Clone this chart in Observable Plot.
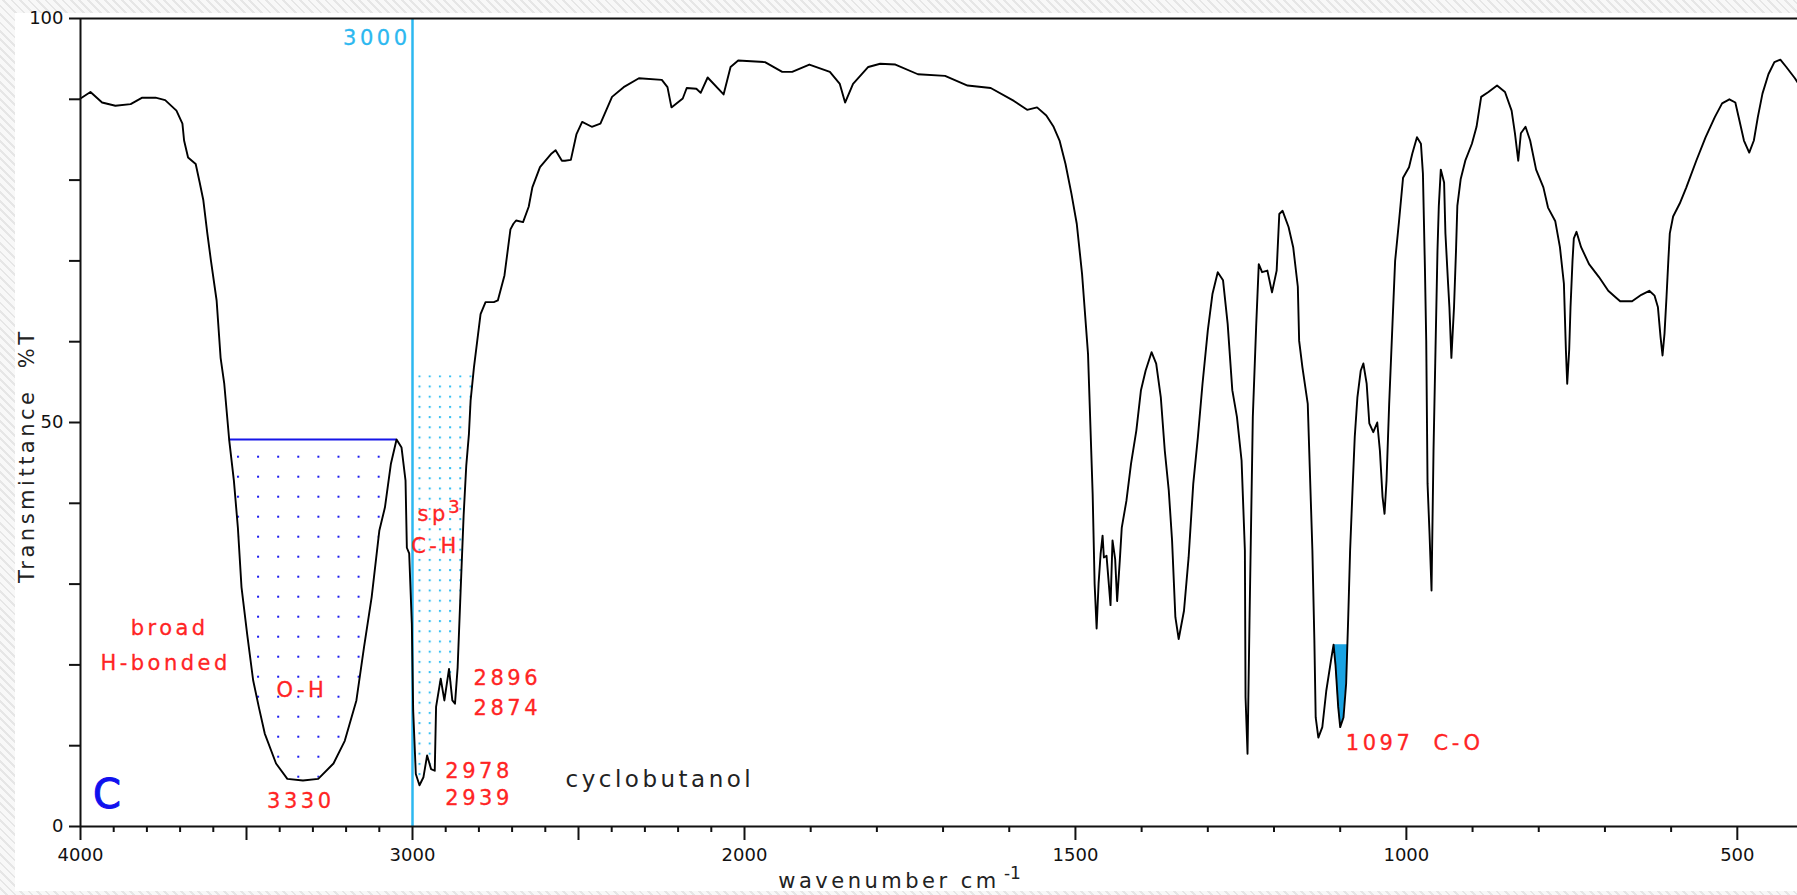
<!DOCTYPE html>
<html>
<head>
<meta charset="utf-8">
<script src="https://cdn.jsdelivr.net/npm/d3@7"></script>
<script src="https://cdn.jsdelivr.net/npm/@observablehq/plot@0.6"></script>
<style>
html, body { margin: 0; padding: 0; width: 1797px; height: 895px; overflow: hidden; }
body {
  position: relative;
  background: repeating-linear-gradient(45deg, #f8f8f8 0px, #f8f8f8 4px, #e6e6e6 4px, #e6e6e6 6px);
  font-family: "DejaVu Sans", sans-serif;
}
#panel { position: absolute; left: 15px; top: 13px; width: 1782px; height: 878px; background: #fff; }
#chart { position: absolute; left: 0; top: 0; }
#chart svg text { white-space: pre; }
</style>
</head>
<body>
<div id="panel"></div>
<div id="chart"></div>
<script>
// ---------- data ----------
const wavenumber = [
  4000, 3970, 3935, 3895, 3849, 3814, 3774, 3745, 3711, 3693,
  3688, 3676, 3653, 3641, 3630, 3618, 3607, 3590, 3578, 3567,
  3552, 3538, 3526, 3515, 3498, 3480, 3463, 3445, 3411, 3377,
  3330, 3284, 3238, 3204, 3169, 3146, 3123, 3100, 3083, 3065,
  3048, 3033, 3021, 3017, 3010, 3002, 2998, 2990, 2979, 2967,
  2956, 2944, 2933, 2929, 2915, 2904, 2890, 2880, 2872, 2864,
  2855, 2846, 2838, 2830, 2825, 2815, 2805, 2795, 2780, 2755,
  2743, 2723, 2705, 2696, 2688, 2667, 2650, 2639, 2616, 2581,
  2569, 2550, 2541, 2523, 2506, 2489, 2460, 2434, 2399, 2364,
  2318, 2249, 2232, 2220, 2186, 2174, 2145, 2132, 2111, 2063,
  2042, 2019, 1969, 1943, 1928, 1902, 1871, 1856, 1848, 1836,
  1813, 1795, 1772, 1738, 1697, 1663, 1628, 1593, 1573, 1558,
  1544, 1533, 1524, 1515, 1506, 1498, 1490, 1487, 1481, 1478,
  1474, 1471, 1468, 1465, 1462, 1459, 1457, 1453, 1447, 1444,
  1440, 1437, 1433, 1430, 1423, 1416, 1408, 1401, 1394, 1385,
  1378, 1371, 1365, 1359, 1354, 1349, 1344, 1336, 1329, 1322,
  1315, 1308, 1300, 1293, 1285, 1277, 1270, 1263, 1256, 1249,
  1244, 1243, 1240, 1237, 1232, 1227, 1223, 1218, 1210, 1203,
  1196, 1192, 1187, 1178, 1171, 1164, 1162, 1157, 1149, 1146,
  1142, 1139, 1137, 1133, 1127, 1121, 1114, 1110, 1107, 1103,
  1100, 1095, 1091, 1088, 1085, 1081, 1078, 1074, 1069, 1065,
  1060, 1056, 1050, 1044, 1040, 1036, 1033, 1030, 1026, 1021,
  1017, 1011, 1005, 996, 991, 984, 978, 975, 972, 970,
  968, 965, 962, 959, 956, 953, 951, 948, 943, 941,
  937, 935, 932, 928, 925, 923, 918, 911, 901, 894,
  887, 876, 863, 851, 841, 836, 831, 827, 820, 813,
  804, 793, 786, 775, 768, 762, 759, 757, 754, 752,
  749, 747, 743, 736, 724, 709, 695, 684, 677, 659,
  645, 633, 625, 620, 616, 613, 610, 607, 604, 602,
  597, 587, 577, 562, 548, 534, 523, 512, 503, 498,
  490, 482, 475, 469, 462, 453, 444, 435, 426, 413,
  400
];
const transmittance = [
  90.1, 90.9, 89.6, 89.2, 89.4, 90.2, 90.2, 89.9, 88.6, 87.0,
  84.9, 82.8, 82.0, 79.7, 77.5, 73.4, 70.0, 65.1, 58.0, 54.8,
  47.8, 42.8, 37.0, 29.6, 23.8, 18.1, 14.8, 11.5, 7.8, 5.9,
  5.7, 5.9, 7.8, 10.6, 15.6, 22.2, 28.4, 36.6, 39.5, 44.9,
  47.9, 46.9, 42.8, 34.5, 33.8, 25.1, 14.4, 6.5, 5.1, 6.1,
  8.8, 7.1, 6.9, 14.8, 18.3, 15.6, 19.5, 15.6, 15.2, 19.7,
  29.2, 38.5, 44.7, 48.6, 52.7, 56.8, 60.1, 63.4, 64.9, 64.9,
  65.1, 68.2, 73.9, 74.6, 75.0, 74.8, 76.7, 79.1, 81.6, 83.3,
  83.7, 82.4, 82.4, 82.5, 85.7, 87.2, 86.6, 87.0, 90.3, 91.5,
  92.6, 92.4, 91.5, 89.0, 90.1, 91.4, 91.3, 90.8, 92.7, 90.6,
  94.0, 94.8, 94.6, 93.4, 93.4, 94.3, 93.4, 91.9, 89.6, 91.9,
  94.0, 94.4, 94.3, 93.1, 92.9, 91.7, 91.4, 89.8, 88.7, 89.0,
  88.0, 86.6, 84.9, 82.0, 78.3, 74.6, 68.4, 65.1, 58.5, 51.1,
  41.2, 30.0, 24.5, 30.1, 33.7, 36.0, 33.3, 33.5, 27.4, 35.4,
  33.1, 27.9, 32.9, 37.0, 40.3, 44.9, 49.0, 54.0, 56.4, 58.7,
  57.3, 53.1, 46.5, 41.6, 35.4, 25.9, 23.2, 26.7, 33.3, 42.4,
  48.2, 54.8, 61.4, 65.9, 68.6, 67.6, 62.2, 54.0, 50.7, 45.3,
  34.2, 16.0, 9.0, 25.5, 50.7, 61.8, 69.6, 68.6, 68.8, 66.1,
  68.8, 75.8, 76.2, 74.2, 71.7, 66.8, 60.1, 56.8, 52.3, 44.5,
  34.2, 23.0, 13.5, 11.0, 12.3, 16.8, 20.5, 22.5, 19.9, 14.8,
  12.3, 13.5, 17.7, 25.5, 34.2, 42.4, 48.2, 53.1, 56.4, 57.3,
  54.8, 49.9, 48.8, 50.0, 46.5, 40.8, 38.7, 42.8, 52.3, 62.2,
  70.0, 75.0, 80.3, 81.6, 83.3, 85.3, 84.5, 80.8, 69.2, 60.1,
  42.4, 36.2, 29.2, 46.5, 59.0, 71.3, 76.8, 81.3, 79.7, 73.4,
  67.2, 64.3, 58.0, 64.3, 71.3, 76.8, 80.1, 82.4, 84.5, 86.6,
  90.3, 90.9, 91.7, 90.9, 88.6, 85.8, 82.4, 85.8, 86.6, 84.9,
  81.3, 79.1, 76.6, 74.9, 71.7, 67.2, 59.0, 54.8, 59.0, 64.3,
  70.0, 72.8, 73.6, 71.7, 69.6, 68.0, 66.3, 65.5, 65.0, 65.0,
  65.8, 66.3, 65.7, 64.3, 60.6, 58.3, 61.0, 65.5, 70.4, 73.4,
  75.5, 77.1, 79.1, 82.4, 85.3, 87.8, 89.5, 90.0, 89.6, 87.8,
  84.9, 83.4, 84.9, 87.8, 90.7, 93.1, 94.6, 94.9, 94.0, 92.6,
  91.0
];

// axes
const yTicks = [0, 10, 20, 30, 40, 50, 60, 70, 80, 90, 100];
const yTickLabels = [0, 50, 100];
const xMajorTicks = [4000, 3500, 3000, 2500, 2000, 1500, 1000, 500];
const xMinorTicks = [3900, 3800, 3700, 3600, 3400, 3300, 3200, 3100, 2900, 2800, 2700, 2600,
  2400, 2300, 2200, 2100, 1900, 1800, 1700, 1600, 1400, 1300, 1200, 1100, 900, 800, 700, 600, 400];
const xTickLabels = [4000, 3000, 2000, 1500, 1000, 500];

// highlighted bands
const referenceLine = [3000];
const ohBand = {from: 3552, to: 3048, level: 47.9};
const chBand = {from: 3000, to: 2815, level: 55.8};
const coBand = {from: 1110, to: 1088, level: 22.5};

// annotations (text, wavenumber, %T at baseline)
const peakLabels = [
  {text: "broad", wn: 3849, t: 23.76},
  {text: "H-bonded", wn: 3940, t: 19.31},
  {text: "O-H", wn: 3410, t: 15.97},
  {text: "3330", wn: 3438, t: 2.35},
  {text: "sp", wn: 2985, t: 37.75},
  {text: "C-H", wn: 3004, t: 33.79},
  {text: "2896", wn: 2816, t: 17.57},
  {text: "2874", wn: 2816, t: 13.74},
  {text: "2978", wn: 2901, t: 6.06},
  {text: "2939", wn: 2901, t: 2.60},
  {text: "1097  C-O", wn: 1091.5, t: 9.41}
];
const superscriptLabels = [{text: "3", wn: 2892, t: 38.74}];
const lineLabel = [{text: "3000", wn: 3209, t: 96.66}];
const panelLetter = [{text: "C", wn: 3962, t: 2.35}];
const compoundName = [{text: "cyclobutanol", wn: 2539, t: 4.83}];
const xTitle = [{text: "wavenumber cm", wn: 1949, t: -7.67}];
const xTitleSup = [{text: "-1", wn: 1608, t: -6.44}];
const yTitle = [{text: "Transmittance  %T", wn: 4160, t: 45.9}];

// ---------- build ----------
const spectrum = wavenumber.map((wn, i) => ({wn, t: transmittance[i]}));
const ohArea = spectrum.filter(d => d.wn <= ohBand.from && d.wn >= ohBand.to);
const chArea = spectrum.filter(d => d.wn <= chBand.from && d.wn >= chBand.to);
const coArea = spectrum.filter(d => d.wn <= coBand.from && d.wn >= coBand.to);

const RED = "#ff2424";
const spaced = {ariaDescription: "spaced"};
const chart = Plot.plot({
  width: 1797,
  height: 895,
  marginLeft: 80,
  marginRight: 0,
  marginTop: 18,
  marginBottom: 69,
  style: {background: "transparent", fontFamily: "'DejaVu Sans', sans-serif", fontSize: "18px", color: "#111", overflow: "hidden"},
  x: {type: "linear", domain: [4000, 2000, 400], range: [80, 744, 1803]},
  y: {domain: [0, 100], range: [826, 18]},
  marks: [
    Plot.area(ohArea, {x1: "wn", y1: "t", y2: () => ohBand.level, fill: "url(#ohDots)"}),
    Plot.area(chArea, {x1: "wn", y1: d => Math.min(d.t, chBand.level), y2: () => chBand.level, fill: "url(#chDots)"}),
    Plot.area(coArea, {x1: "wn", y1: d => Math.min(d.t, coBand.level), y2: () => coBand.level, fill: "#1aa3e2"}),
    Plot.ruleX(referenceLine, {x: d => d, stroke: "#2db8f0", strokeWidth: 2.5}),
    Plot.ruleY([ohBand], {y: "level", x1: "from", x2: "to", stroke: "#1616e8", strokeWidth: 2}),
    Plot.line(spectrum, {x: "wn", y: "t", stroke: "#000", strokeWidth: 1.9, curve: "linear"}),
    // frame
    Plot.ruleX([4000], {stroke: "#111", strokeWidth: 2}),
    Plot.ruleY([0, 100], {stroke: "#111", strokeWidth: 2}),
    // axes
    Plot.axisY({ticks: yTicks, tickSize: 11, strokeWidth: 2, fill: "none", label: null}),
    Plot.axisY({ticks: yTickLabels, tickSize: 0, tickPadding: 17, fontSize: 18, fill: "#111", label: null}),
    Plot.axisX({ticks: xMajorTicks, tickSize: 14, strokeWidth: 2, fill: "none", label: null}),
    Plot.axisX({ticks: xMinorTicks, tickSize: 6, strokeWidth: 2, fill: "none", label: null}),
    Plot.axisX({ticks: xTickLabels, tickSize: 0, tickPadding: 22, tickFormat: "d", fontSize: 18, fill: "#111", label: null}),
    // annotations
    Plot.text(peakLabels, {x: "wn", y: "t", text: "text", textAnchor: "start", lineAnchor: "bottom", fontSize: 21, fill: RED, stroke: RED, strokeWidth: 0.3, ...spaced}),
    Plot.text(superscriptLabels, {x: "wn", y: "t", text: "text", textAnchor: "start", lineAnchor: "bottom", fontSize: 18, fill: RED, stroke: RED, strokeWidth: 0.3}),
    Plot.text(lineLabel, {x: "wn", y: "t", text: "text", textAnchor: "start", lineAnchor: "bottom", fontSize: 21, fill: "#2db8f0", stroke: "#2db8f0", strokeWidth: 0.3, ...spaced}),
    Plot.text(panelLetter, {x: "wn", y: "t", text: "text", textAnchor: "start", lineAnchor: "bottom", fontSize: 40, fill: "#1010ee", stroke: "#1010ee", strokeWidth: 1}),
    Plot.text(compoundName, {x: "wn", y: "t", text: "text", textAnchor: "start", lineAnchor: "bottom", fontSize: 23, fill: "#222", ...spaced}),
    Plot.text(xTitle, {x: "wn", y: "t", text: "text", textAnchor: "start", lineAnchor: "bottom", fontSize: 21, fill: "#222", ...spaced}),
    Plot.text(xTitleSup, {x: "wn", y: "t", text: "text", textAnchor: "start", lineAnchor: "bottom", fontSize: 17, fill: "#222"}),
    Plot.text(yTitle, {x: "wn", y: "t", text: "text", textAnchor: "middle", lineAnchor: "middle", rotate: -90, fontSize: 21, fill: "#222", ...spaced})
  ]
});

// dot patterns for the highlighted absorption bands
const NS = "http://www.w3.org/2000/svg";
const defs = document.createElementNS(NS, "defs");
defs.innerHTML =
  '<pattern id="ohDots" patternUnits="userSpaceOnUse" x="237" y="455.7" width="20.1" height="20">' +
  '<rect width="2" height="2" fill="#1a1af0"/></pattern>' +
  '<pattern id="chDots" patternUnits="userSpaceOnUse" x="418.5" y="375.3" width="10.2" height="10.2">' +
  '<rect width="2" height="2" fill="#36bff2"/></pattern>';
chart.insertBefore(defs, chart.firstChild);
chart.setAttribute("xml:space", "preserve");
d3.select(chart).selectAll('g[aria-description="spaced"] text').style("letter-spacing", "3.5px");

document.getElementById("chart").appendChild(chart);
</script>
</body>
</html>
